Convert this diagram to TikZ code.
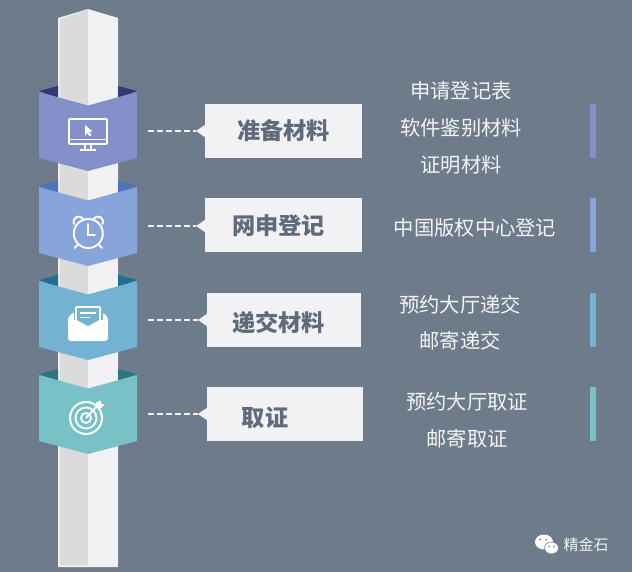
\documentclass[tikz,border=0pt]{standalone}
\usepackage{fontspec}
\setmainfont{Noto Sans CJK SC}
\definecolor{bg}{HTML}{6D7B8B}
\definecolor{pilL}{HTML}{DBDBDB}
\definecolor{pilR}{HTML}{F1F1F3}
\definecolor{pilE}{HTML}{EFEFF0}
\definecolor{boxc}{HTML}{F2F2F4}
\definecolor{txtc}{HTML}{5F6B7C}
\definecolor{sidec}{HTML}{F4F4F4}
\definecolor{bA}{HTML}{8390C9}\definecolor{dA}{HTML}{2C3B78}
\definecolor{bB}{HTML}{87A5DA}\definecolor{dB}{HTML}{4A72BE}
\definecolor{bC}{HTML}{74B2D2}\definecolor{dC}{HTML}{206F90}
\definecolor{bD}{HTML}{78C1C7}\definecolor{dD}{HTML}{2E7580}
\tikzset{
 labelbox/.style={fill=boxc,inner sep=0pt,minimum width=#1,minimum height=54pt},
 labeltext/.style={text=txtc,inner sep=0pt,font=\fontsize{23.2}{27}\selectfont\bfseries},
 sidetext/.style={text=sidec,inner sep=0pt,font=\fontsize{20.3}{24}\selectfont},
 dashline/.style={draw=boxc,line width=2pt,dash pattern=on 6pt off 3pt},
 iconline/.style={draw=white,line width=1.9pt},
 sidebar/.style={inner sep=0pt,minimum width=6pt,minimum height=54pt}
}
\newcommand{\pband}[3]{% top-corner y, colour, dark colour
 \fill[#3] (39,#1-1) -- (58,#1-6) -- (58,#1+6) -- cycle;
 \fill[#3] (137,#1-1) -- (118,#1-6) -- (118,#1+6) -- cycle;
 \fill[#2] (39,#1) -- (88,#1+13.5) -- (137,#1) -- (137,#1+66) -- (88,#1+79) -- (39,#1+66) -- cycle;
}
\begin{document}
\begin{tikzpicture}[x=1pt,y=-1pt]
\useasboundingbox (0,0) rectangle (632,572);
\fill[bg] (0,0) rectangle (632,572);
% pillar
\fill[pilE] (58,18) -- (88,9) -- (118,18) -- (118,567) -- (58,567) -- cycle;
\fill[pilL] (60,19) -- (87,10) -- (88,10) -- (88,565) -- (60,565) -- cycle;
\fill[pilR] (88,10) -- (117,18) -- (117,565) -- (88,565) -- cycle;
% bands
\pband{92}{bA}{dA}
\pband{187}{bB}{dB}
\pband{281}{bC}{dC}
\pband{375}{bD}{dD}
% icon 1: monitor
\draw[iconline,rounded corners=1pt] (69,119) rectangle (107,144);
\draw[iconline] (69,139.5) -- (107,139.5);
\draw[iconline] (85,144) -- (85,149) (91,144) -- (91,149);
\draw[iconline] (80,150) -- (96,150);
\fill[white] (85,125) -- (85,136) -- (87.3,133) -- (89.5,136.5) -- (91.5,135) -- (89.3,132) -- (92.5,131.5) -- cycle;
% icon 2: clock
\draw[iconline] (88.3,233.5) circle[radius=14.5];
\draw[iconline,line cap=round] (88.3,224) -- (88.3,235) -- (95,235);
\draw[iconline,line cap=round] (74,224) .. controls (72,217) and (79,214.5) .. (83,218.5);
\draw[iconline,line cap=round] (102.6,224) .. controls (104.6,217) and (97.6,214.5) .. (93.6,218.5);
\draw[iconline,line cap=round] (78,244.5) -- (74.5,248) (98.6,244.5) -- (102,248);
% icon 3: envelope
\fill[white,rounded corners=3pt] (68,317) -- (74,312) -- (102,312) -- (108,317) -- (108,341) -- (68,341) -- cycle;
\fill[bC] (73.5,304.5) rectangle (102.5,320);
\fill[white,rounded corners=1.5pt] (75,306) rectangle (101,322);
\fill[bC] (77,308) -- (99,308) -- (99,320) -- (88,326) -- (77,320) -- cycle;
\draw[white,line width=1.4pt] (80,313) -- (96,313) (80,317.5) -- (90,317.5);
% icon 4: target
\draw[white,line width=2pt] (86,418) circle[radius=16];
\draw[white,line width=1.8pt] (86,418) circle[radius=10.5];
\draw[white,line width=1.8pt] (86,418) circle[radius=5];
\draw[white,line width=1.8pt] (86,418) -- (98,405);
\fill[white] (95.5,406) -- (96,402.5) -- (101,400.5) -- (101,404) -- (104.5,404.5) -- (100,409) -- (97,408.5) -- cycle;
% label boxes
\node[labelbox=157pt,anchor=north west] (boxA) at (205,104) {};
\node[labelbox=157pt,anchor=north west] (boxB) at (205,198) {};
\node[labelbox=154pt,anchor=north west] (boxC) at (207,293) {};
\node[labelbox=156pt,anchor=north west] (boxD) at (207,387) {};
\node[labeltext] (labA) at (283.5,131) {准备材料};
\node[labeltext] (labB) at (278.5,226) {网申登记};
\node[labeltext] (labC) at (278.5,323) {递交材料};
\node[labeltext] (labD) at (265,418) {取证};
% pointers and connectors
\coordinate (tipA) at (196,131);\coordinate (tipB) at (196,226);
\coordinate (tipC) at (198,320);\coordinate (tipD) at (198,414);
\coordinate (startA) at (148,131);\coordinate (startB) at (148,226);
\coordinate (startC) at (148,320);\coordinate (startD) at (148,414);
\fill[boxc] (tipA) -- (205.5,124.5) -- (205.5,137.5) -- cycle;
\fill[boxc] (tipB) -- (205.5,219.5) -- (205.5,232.5) -- cycle;
\fill[boxc] (tipC) -- (207.5,313.5) -- (207.5,326.5) -- cycle;
\fill[boxc] (tipD) -- (207.5,407.5) -- (207.5,420.5) -- cycle;
\draw[dashline] (startA) -- (tipA);
\draw[dashline] (startB) -- (tipB);
\draw[dashline] (startC) -- (tipC);
\draw[dashline] (startD) -- (tipD);
% side texts
\node[sidetext] (a1) at (461,91) {申请登记表};
\node[sidetext] (a2) at (461,128) {软件鉴别材料};
\node[sidetext] (a3) at (461,165) {证明材料};
\node[sidetext] (b1) at (475,228) {中国版权中心登记};
\node[sidetext] (c1) at (460,305) {预约大厅递交};
\node[sidetext] (c2) at (460,341) {邮寄递交};
\node[sidetext] (d1) at (467,402) {预约大厅取证};
\node[sidetext] (d2) at (467,439) {邮寄取证};
% side bars
\node[sidebar,fill=bA,anchor=north west] (barA) at (590,104) {};
\node[sidebar,fill=bB,anchor=north west] (barB) at (590,198) {};
\node[sidebar,fill=bC,anchor=north west] (barC) at (590,293) {};
\node[sidebar,fill=bD,anchor=north west] (barD) at (590,387) {};
% watermark
\fill[white] (544,542) ellipse[x radius=9,y radius=7.5];
\fill[white] (551.5,548) ellipse[x radius=7,y radius=6];
\fill[bg] (540,539.5) circle[radius=1] (546,539.5) circle[radius=1] (549,546.5) circle[radius=.8] (554,546.5) circle[radius=.8];
\draw[bg,line width=.6pt] (551.5,548) ellipse[x radius=7,y radius=6];
\node[text=sidec,inner sep=0pt,font=\fontsize{15}{18}\selectfont] (wm) at (586,545) {精金石};
\end{tikzpicture}
\end{document}
